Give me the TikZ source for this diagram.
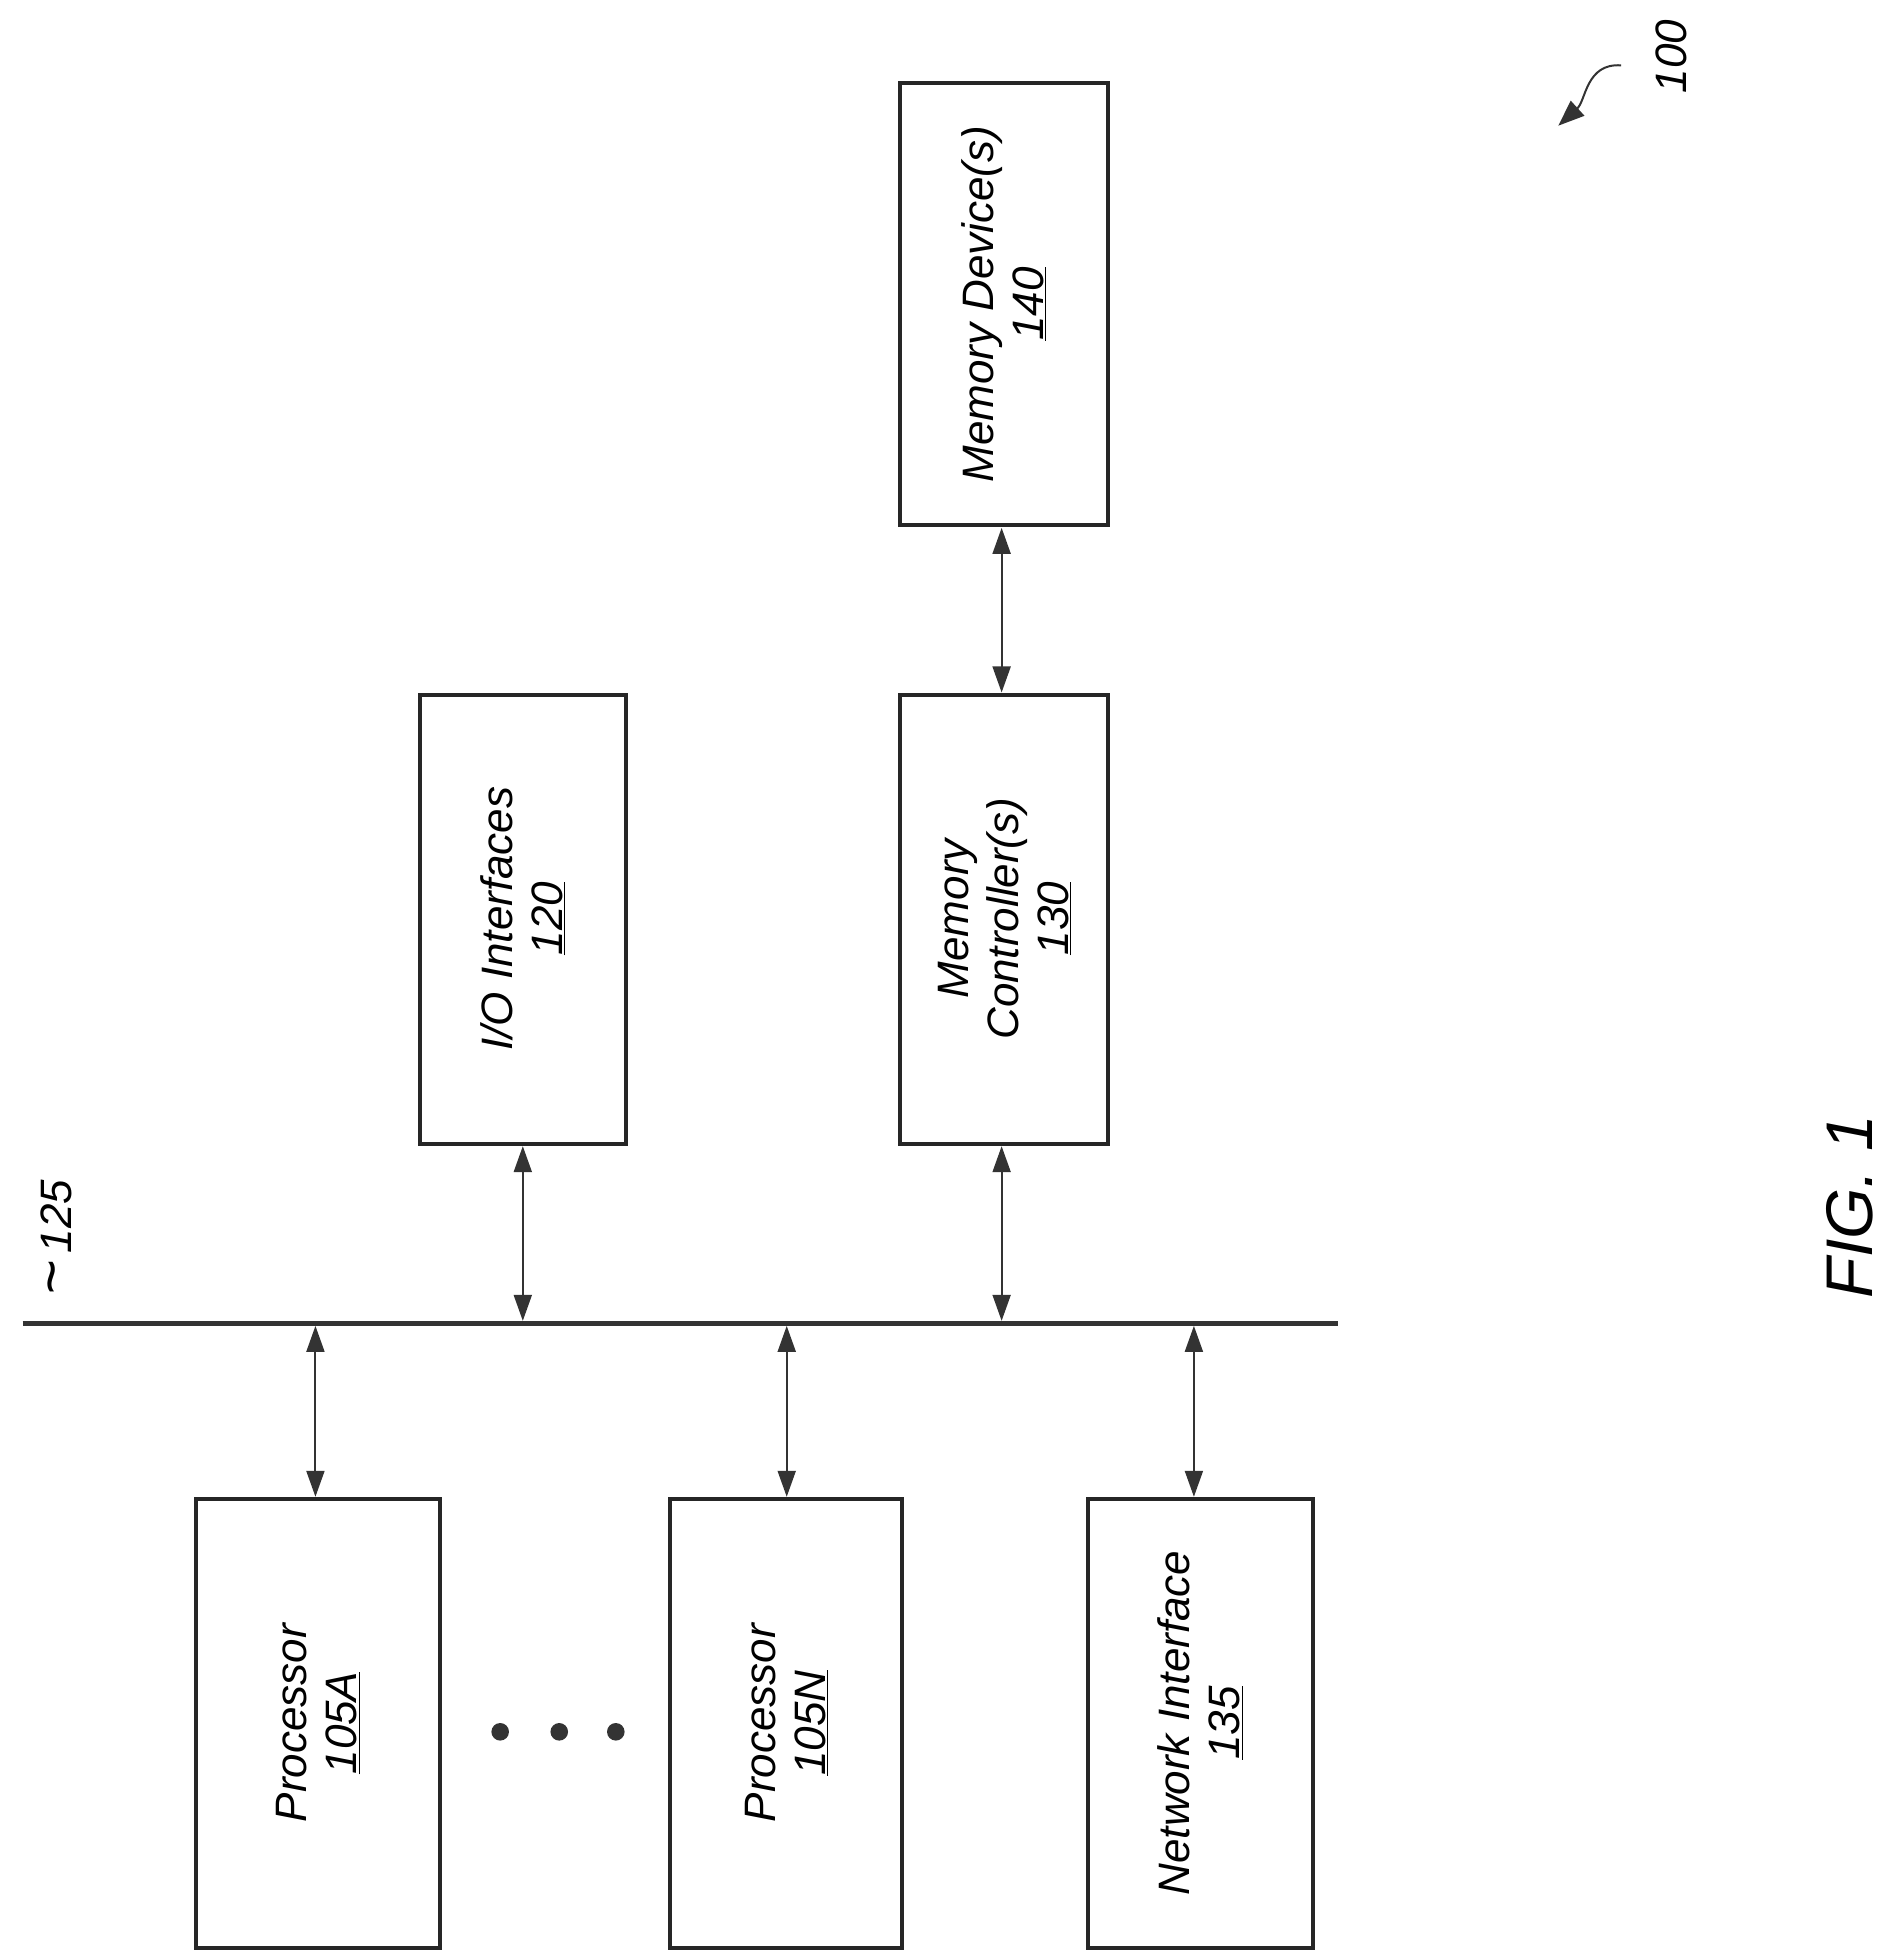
\documentclass[tikz,border=0pt]{standalone}
\usepackage{fontspec}
\setmainfont{Liberation Sans}
\usetikzlibrary{arrows.meta}
\tikzset{
  blk/.style={draw=black!85,line width=4pt},
  lbl/.style={rotate=90,align=center,font=\fontsize{44}{50}\selectfont\itshape},
  link/.style={{Triangle[length=26pt,width=18pt]}-{Triangle[length=26pt,width=18pt]},line width=2pt,black!80},
}
\begin{document}
\begin{tikzpicture}[x=1.257pt,y=-1.257pt]
   \useasboundingbox (0,0) rectangle (1500,1558);
   % blocks
   \draw[blk] (716,66) rectangle (882,418);
   \node[lbl] (dev) at (799,242) {Memory Device(s)\\\underline{140}};
   \draw[blk] (334,553) rectangle (498,910);
   \node[lbl] (io) at (416,731) {I/O Interfaces\\\underline{120}};
   \draw[blk] (716,553) rectangle (882,910);
   \node[lbl] (mc) at (799,731) {Memory\\Controller(s)\\\underline{130}};
   \draw[blk] (156,1193) rectangle (350,1550);
   \node[lbl] (pa) at (253,1371) {Processor\\\underline{105A}};
   \draw[blk] (533,1193) rectangle (718,1550);
   \node[lbl] (pn) at (626,1371) {Processor\\\underline{105N}};
   \draw[blk] (866,1193) rectangle (1045,1550);
   \node[lbl] (ni) at (955,1371) {Network Interface\\\underline{135}};
   % bus
   \draw[line width=5pt,black!80] (18,1053) coordinate (busL) -- (1065,1053) coordinate (busR);
   \node[lbl] (bus) at (45,985) {{\fontsize{60}{60}\selectfont\textasciitilde}\,125};
   % links
   \draw[link] (797,420) -- (797,551);
   \draw[link] (416,912) -- (416,1051);
   \draw[link] (797,912) -- (797,1051);
   \draw[link] (251,1055) -- (251,1191);
   \draw[link] (626,1055) -- (626,1191);
   \draw[link] (950,1055) -- (950,1191);
   % dots
   \foreach \x in {398,445,490} \fill[black!80] (\x,1378) circle (7);
   % labels
   \node[lbl] (ref) at (1330,45) {100};
   \draw[-{Triangle[length=26pt,width=20pt]},line width=2pt,black!80] (1290,52) .. controls (1262,50) and (1262,80) .. (1240,100);
   \node[lbl,font=\fontsize{66}{72}\selectfont\itshape] (fig) at (1472,960) {FIG. 1};
\end{tikzpicture}
\end{document}
